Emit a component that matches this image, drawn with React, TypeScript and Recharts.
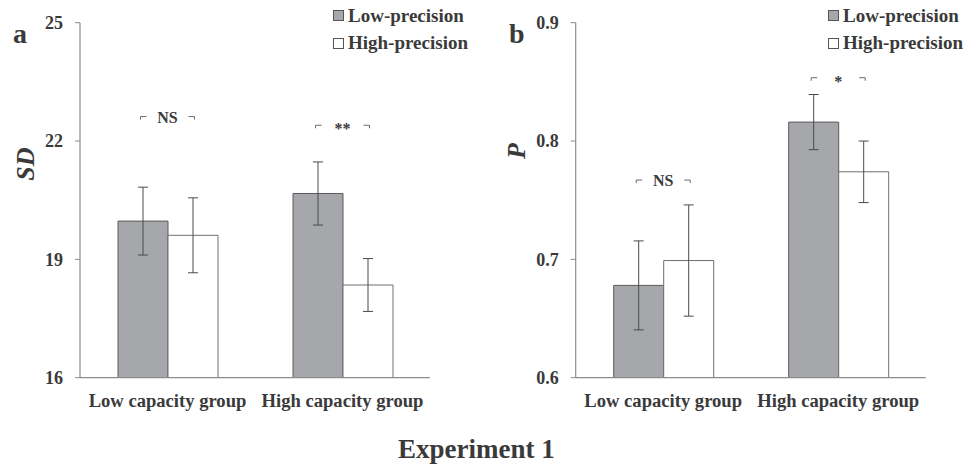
import React from 'react';
import { ComposedChart, Bar, XAxis, YAxis, ErrorBar, Scatter, Legend } from 'recharts';

// Category labels shared by both panels
const groups = ['Low capacity group', 'High capacity group'];
const seriesNames = ['Low-precision', 'High-precision'];

// Panel a: SD of recall error
const sdLowPrecision = [19.97, 20.67];
const sdLowPrecisionErr = [0.86, 0.8];
const sdHighPrecision = [19.61, 18.35];
const sdHighPrecisionErr = [0.95, 0.67];
const sdSigLabels = ['NS', '**'];
const sdSigLevels = [22.62, 22.4];
const sdTicks = [16, 19, 22, 25];

// Panel b: probability of recall
const pLowPrecision = [0.678, 0.816];
const pLowPrecisionErr = [0.0376, 0.0233];
const pHighPrecision = [0.699, 0.774];
const pHighPrecisionErr = [0.047, 0.026];
const pSigLabels = ['NS', '*'];
const pSigLevels = [0.767, 0.8535];
const pTicks = [0.6, 0.7, 0.8, 0.9];

const FONT = '"Liberation Serif", "Times New Roman", serif';
const TEXT = '#3a3a3a';
const GRAY = '#a6a7ab';
const AXIS = '#8c8c8c';

type Row = {
  group: string;
  low: number;
  lowErr: number;
  high: number;
  highErr: number;
  sig: string;
  sigLevel: number;
};

const buildRows = (
  low: number[],
  lowErr: number[],
  high: number[],
  highErr: number[],
  sig: string[],
  sigLevel: number[]
): Row[] =>
  groups.map((g, i) => ({
    group: g,
    low: low[i],
    lowErr: lowErr[i],
    high: high[i],
    highErr: highErr[i],
    sig: sig[i],
    sigLevel: sigLevel[i],
  }));

const sdRows = buildRows(sdLowPrecision, sdLowPrecisionErr, sdHighPrecision, sdHighPrecisionErr, sdSigLabels, sdSigLevels);
const pRows = buildRows(pLowPrecision, pLowPrecisionErr, pHighPrecision, pHighPrecisionErr, pSigLabels, pSigLevels);

// Significance bracket drawn around the category centre
const SigBracket = (props: any) => {
  const { cx, cy, payload } = props;
  if (cx == null || cy == null) return null;
  const half = 27;
  const arm = 6;
  const drop = 3;
  const stars = payload.sig.includes('*');
  return (
    <g>
      <path
        d={`M${cx - half},${cy + drop} V${cy} H${cx - half + arm}`}
        fill="none"
        stroke="#6a6a6a"
        strokeWidth={1}
      />
      <path
        d={`M${cx + half - arm},${cy} H${cx + half} V${cy + drop}`}
        fill="none"
        stroke="#6a6a6a"
        strokeWidth={1}
      />
      <text
        x={cx}
        y={cy + (stars ? 9 : 6)}
        textAnchor="middle"
        fontFamily={FONT}
        fontWeight="bold"
        fontSize={16}
        fill={TEXT}
      >
        {payload.sig}
      </text>
    </g>
  );
};

const LegendContent = (props: any) => {
  const items = (props.payload || [])
    .filter((p: any) => p.type !== 'none')
    .slice()
    .sort((a: any, b: any) => seriesNames.indexOf(a.value) - seriesNames.indexOf(b.value));
  return (
    <div style={{ fontFamily: FONT, fontWeight: 'bold', fontSize: 19, color: TEXT }}>
      {items.map((p: any) => (
        <div key={p.value} style={{ display: 'flex', alignItems: 'center', height: 27.6 }}>
          <span
            style={{
              display: 'inline-block',
              width: 9,
              height: 9,
              background: p.color,
              border: '1px solid #555',
              marginRight: 4,
            }}
          />
          <span>{p.value}</span>
        </div>
      ))}
    </div>
  );
};

type PanelProps = {
  rows: Row[];
  domain: [number, number];
  ticks: number[];
  decimals: number;
  yTitle: string;
  letter: string;
  marginLeft: number;
  yAxisWidth: number;
  marginRight: number;
  legendLeft: number;
  letterX: number;
  titleX: number;
  titleY: number;
};

const Panel = (p: PanelProps) => (
  <ComposedChart
    width={487}
    height={420}
    data={p.rows}
    margin={{ top: 22.7, right: p.marginRight, bottom: 12.3, left: p.marginLeft }}
    barGap={0}
  >
    <XAxis
      dataKey="group"
      type="category"
      height={30}
      tickSize={0}
      tickMargin={16}
      axisLine={{ stroke: AXIS, strokeWidth: 1.2 }}
      tick={{ fontFamily: FONT, fontWeight: 'bold', fontSize: 18.6, fill: TEXT }}
    />
    <YAxis
      type="number"
      domain={p.domain}
      ticks={p.ticks}
      width={p.yAxisWidth}
      tickSize={5}
      tickMargin={12}
      allowDataOverflow
      tickFormatter={(v: number) => v.toFixed(p.decimals)}
      axisLine={{ stroke: AXIS, strokeWidth: 1.2 }}
      tickLine={{ stroke: AXIS }}
      tick={{ fontFamily: FONT, fontWeight: 'bold', fontSize: 18, fill: TEXT }}
    />
    <Legend
      layout="vertical"
      align="center"
      verticalAlign="middle"
      content={<LegendContent />}
      wrapperStyle={{ top: 2, left: p.legendLeft, width: 160 }}
    />
    <Bar dataKey="low" name={seriesNames[0]} fill={GRAY} stroke="#5a5a5a" strokeWidth={1} barSize={50} isAnimationActive={false}>
      <ErrorBar dataKey="lowErr" direction="y" width={5} stroke="#4a4a4a" strokeWidth={1} />
    </Bar>
    <Bar dataKey="high" name={seriesNames[1]} fill="#ffffff" stroke="#6e6e6e" strokeWidth={1} barSize={50} isAnimationActive={false}>
      <ErrorBar dataKey="highErr" direction="y" width={5} stroke="#4a4a4a" strokeWidth={1} />
    </Bar>
    <Scatter dataKey="sigLevel" legendType="none" shape={<SigBracket />} isAnimationActive={false} />
    <text x={p.letterX} y={43} fontFamily={FONT} fontWeight="bold" fontSize={28} fill={TEXT}>
      {p.letter}
    </text>
    <text
      x={p.titleX}
      y={p.titleY}
      transform={`rotate(-90 ${p.titleX} ${p.titleY})`}
      textAnchor="middle"
      fontFamily={FONT}
      fontWeight="bold"
      fontStyle="italic"
      fontSize={26}
      fill={TEXT}
    >
      {p.yTitle}
    </text>
  </ComposedChart>
);

export default function App() {
  return (
    <div style={{ position: 'absolute', left: 0, top: 0, width: 974, height: 469, background: '#fff' }}>
      <div style={{ position: 'absolute', left: 0, top: 0 }}>
        <Panel
          rows={sdRows}
          domain={[16, 25]}
          ticks={sdTicks}
          decimals={0}
          yTitle="SD"
          letter="a"
          marginLeft={20}
          yAxisWidth={60}
          marginRight={57}
          legendLeft={333}
          letterX={13}
          titleX={34}
          titleY={164}
        />
      </div>
      <div style={{ position: 'absolute', left: 487, top: 0 }}>
        <Panel
          rows={pRows}
          domain={[0.6, 0.9]}
          ticks={pTicks}
          decimals={1}
          yTitle="P"
          letter="b"
          marginLeft={18.7}
          yAxisWidth={70}
          marginRight={48.3}
          legendLeft={341}
          letterX={22}
          titleX={38}
          titleY={151}
        />
      </div>
      <div
        style={{
          position: 'absolute',
          left: 398,
          top: 434,
          fontFamily: FONT,
          fontWeight: 'bold',
          fontSize: 27,
          lineHeight: '30px',
          color: TEXT,
          whiteSpace: 'nowrap',
        }}
      >
        Experiment 1
      </div>
    </div>
  );
}
